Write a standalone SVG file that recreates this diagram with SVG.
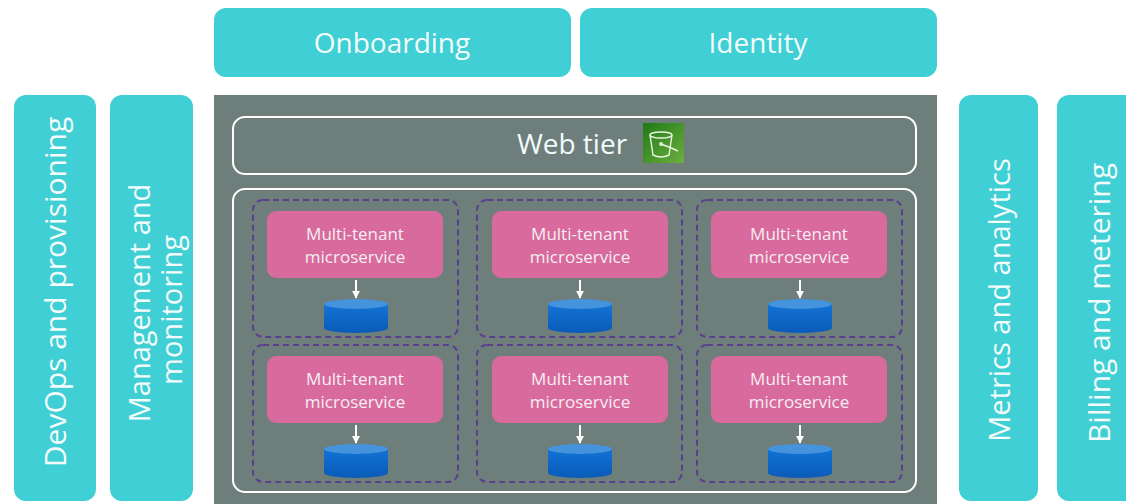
<svg xmlns="http://www.w3.org/2000/svg" width="1126" height="504" viewBox="0 0 1126 504">
<style>
.teal{fill:#3fcfd4}
.lbl{font-family:"Open Sans","Liberation Sans",sans-serif;fill:#f4fbfb;font-size:28px}
.ms{font-family:"Open Sans","Liberation Sans",sans-serif;fill:#f6eef2;font-size:17px;text-anchor:middle}
.pink{fill:#d86a9d}
.dash{fill:none;stroke:#5b3f8c;stroke-width:2;stroke-dasharray:6 4}
.wbox{fill:none;stroke:#ffffff;stroke-width:2}
.arr{stroke:#ffffff;stroke-width:2;marker-end:url(#ah)}
</style>
<defs>
<marker id="ah" viewBox="0 0 10 10" refX="9" refY="5" markerWidth="4" markerHeight="4" orient="auto" markerUnits="strokeWidth">
<path d="M0,0 L10,5 L0,10 z" fill="#ffffff"/>
</marker>
<linearGradient id="grn" x1="0" y1="0" x2="1" y2="1">
<stop offset="0" stop-color="#1f7a17"/>
<stop offset="1" stop-color="#6cae3e"/>
</linearGradient>
<linearGradient id="cylb" x1="0" y1="0" x2="0" y2="1">
<stop offset="0" stop-color="#1173d6"/>
<stop offset="1" stop-color="#0a5bb8"/>
</linearGradient>
<g id="cyl">
<path d="M-32,0 L-32,24 A32,5 0 0 0 32,24 L32,0 z" fill="url(#cylb)"/>
<ellipse cx="0" cy="0" rx="32" ry="5" fill="#4593dc"/>
</g>
</defs>
<rect width="1126" height="504" fill="#ffffff"/>

<g id="onboarding">
<rect class="teal" x="214" y="8" width="357" height="69" rx="12"/>
<text class="lbl" x="392" y="53" text-anchor="middle">Onboarding</text>
</g>
<g id="identity">
<rect class="teal" x="580" y="8" width="357" height="69" rx="12"/>
<text class="lbl" x="758" y="53" text-anchor="middle">Identity</text>
</g>

<g id="devops">
<rect class="teal" x="14" y="95" width="82" height="406" rx="12"/>
<text class="lbl" transform="translate(66 292) rotate(-90)" text-anchor="middle" style="font-size:30px">DevOps and provisioning</text>
</g>
<g id="management">
<rect class="teal" x="110" y="95" width="83" height="406" rx="12"/>
<text class="lbl" transform="translate(150 303) rotate(-90)" text-anchor="middle" style="font-size:29px">Management and</text>
<text class="lbl" transform="translate(182 310) rotate(-90)" text-anchor="middle" style="font-size:29px">monitoring</text>
</g>
<g id="metrics">
<rect class="teal" x="959" y="95" width="79" height="406" rx="12"/>
<text class="lbl" transform="translate(1010 300) rotate(-90)" text-anchor="middle" style="font-size:29px">Metrics and analytics</text>
</g>
<g id="billing">
<rect class="teal" x="1057" y="95" width="90" height="406" rx="12"/>
<text class="lbl" transform="translate(1110 303) rotate(-90)" text-anchor="middle" style="font-size:30px">Billing and metering</text>
</g>

<g id="app">
<rect x="214" y="95" width="723" height="420" fill="#6d7e7b"/>
</g>

<g id="webtier">
<rect class="wbox" x="233" y="117" width="683" height="57" rx="12"/>
<text class="lbl" x="572" y="154" text-anchor="middle">Web tier</text>
<rect x="643" y="123" width="41" height="40" fill="url(#grn)"/>
<g fill="none" stroke="#e8f4e0" stroke-width="1.4">
<ellipse cx="661" cy="135" rx="11" ry="3"/>
<path d="M650,135 L653,155 Q661,159 669,155 L672,135"/>
<path d="M661,144 Q672,148 678,151"/>
<circle cx="661" cy="144" r="1.2"/>
</g>
</g>

<g id="services">
<rect class="wbox" x="233" y="189" width="683" height="303" rx="12"/>
</g>

<g id="ms-1-1">
<rect class="dash" x="253" y="200" width="205" height="137" rx="10"/>
<rect class="pink" x="267" y="211" width="176" height="67" rx="9"/>
<text class="ms" x="355" y="240">Multi-tenant</text>
<text class="ms" x="355" y="263">microservice</text>
<use href="#cyl" x="356" y="304"/>
</g>
<g id="ms-1-2">
<rect class="dash" x="477" y="200" width="205" height="137" rx="10"/>
<rect class="pink" x="492" y="211" width="176" height="67" rx="9"/>
<text class="ms" x="580" y="240">Multi-tenant</text>
<text class="ms" x="580" y="263">microservice</text>
<use href="#cyl" x="580" y="304"/>
</g>
<g id="ms-1-3">
<rect class="dash" x="697" y="200" width="205" height="137" rx="10"/>
<rect class="pink" x="711" y="211" width="176" height="67" rx="9"/>
<text class="ms" x="799" y="240">Multi-tenant</text>
<text class="ms" x="799" y="263">microservice</text>
<use href="#cyl" x="800" y="304"/>
</g>
<g id="ms-2-1">
<rect class="dash" x="253" y="345" width="205" height="137" rx="10"/>
<rect class="pink" x="267" y="356" width="176" height="67" rx="9"/>
<text class="ms" x="355" y="385">Multi-tenant</text>
<text class="ms" x="355" y="408">microservice</text>
<use href="#cyl" x="356" y="449"/>
</g>
<g id="ms-2-2">
<rect class="dash" x="477" y="345" width="205" height="137" rx="10"/>
<rect class="pink" x="492" y="356" width="176" height="67" rx="9"/>
<text class="ms" x="580" y="385">Multi-tenant</text>
<text class="ms" x="580" y="408">microservice</text>
<use href="#cyl" x="580" y="449"/>
</g>
<g id="ms-2-3">
<rect class="dash" x="697" y="345" width="205" height="137" rx="10"/>
<rect class="pink" x="711" y="356" width="176" height="67" rx="9"/>
<text class="ms" x="799" y="385">Multi-tenant</text>
<text class="ms" x="799" y="408">microservice</text>
<use href="#cyl" x="800" y="449"/>
</g>

<g id="connectors">
<line class="arr" x1="356" y1="280" x2="356" y2="298"/>
<line class="arr" x1="580" y1="280" x2="580" y2="298"/>
<line class="arr" x1="800" y1="280" x2="800" y2="298"/>
<line class="arr" x1="356" y1="425" x2="356" y2="443"/>
<line class="arr" x1="580" y1="425" x2="580" y2="443"/>
<line class="arr" x1="800" y1="425" x2="800" y2="443"/>
</g>
</svg>
